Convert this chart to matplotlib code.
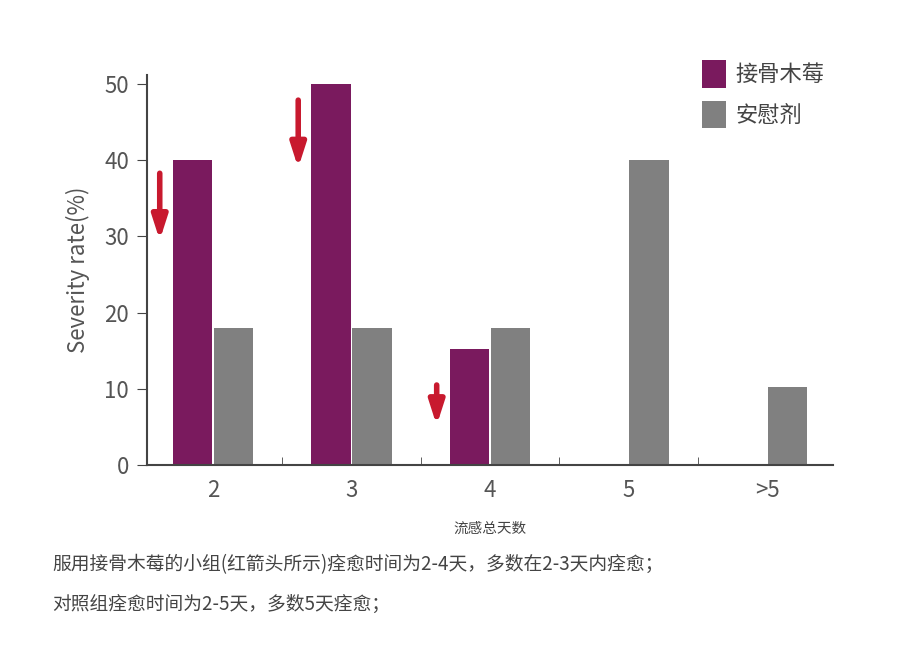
import matplotlib.pyplot as plt
import numpy as np

plt.rcParams['font.family'] = ['Noto Sans CJK SC', 'DejaVu Sans']

categories = ['2', '3', '4', '5', '>5']
elder = [40, 50, 15.2, 0, 0]
placebo = [18, 18, 18, 40, 10.2]
# arrow (start, end) values beside purple bars
arrow_groups = [0, 1, 2]
arrow_top = [38.3, 47.9, 10.5]
arrow_bot = [29.5, 39.0, 5.2]

purple = '#7a1a5e'
gray = '#808080'
red = '#c8192e'

fig = plt.figure(figsize=(9.09, 6.66), dpi=100)
ax = fig.add_axes([147/909, 1-465/666, (833-147)/909, (465-75)/666])

x = np.arange(len(categories))
w = 0.285
ax.bar(x - w/2 - 0.005, elder, w, color=purple, label='接骨木莓')
ax.bar(x + w/2 + 0.005, placebo, w, color=gray, label='安慰剂')

for g, t, b in zip(arrow_groups, arrow_top, arrow_bot):
    ax.annotate('', xy=(g - 0.385, b), xytext=(g - 0.385, t),
                arrowprops=dict(arrowstyle='-|>,head_width=0.45,head_length=1.4',
                                color=red, lw=4, shrinkA=0, shrinkB=0))

ax.set_xlim(-0.477, len(categories) - 1 + 0.477)
ax.set_ylim(0, 51.2)
ax.set_xticks(x)
ax.set_xticklabels(categories)
ax.set_xticks(x[:-1] + 0.5, minor=True)
ax.tick_params(axis='x', which='major', length=0, pad=10)
ax.tick_params(axis='x', which='minor', length=6, direction='in', color='#444')
ax.set_yticks([0, 10, 20, 30, 40, 50])
ax.tick_params(axis='y', length=7, direction='out', color='#444', pad=6)
ax.tick_params(labelsize=16, labelcolor='#555')
for lab in ax.get_xticklabels() + ax.get_yticklabels():
    lab.set_fontweight('light')
for s in ['top', 'right']:
    ax.spines[s].set_visible(False)
for s in ['left', 'bottom']:
    ax.spines[s].set_color('#444')
    ax.spines[s].set_linewidth(1.5)

ax.set_ylabel('Severity rate(%)', fontsize=16, color='#555', labelpad=10, fontweight='light')
ax.set_xlabel('流感总天数', fontsize=10.5, color='#444', labelpad=14)

leg = ax.legend(loc='upper right', bbox_to_anchor=(1.0, 1.06), frameon=False,
                fontsize=16, handlelength=1.1, handleheight=1.5, labelcolor='#444',
                handletextpad=0.4, borderaxespad=0, labelspacing=0.6)

fig.text(52/909, 1-565/666, '服用接骨木莓的小组(红箭头所示)痊愈时间为2-4天，多数在2-3天内痊愈；',
         fontsize=13.5, color='#444', va='center')
fig.text(52/909, 1-604/666, '对照组痊愈时间为2-5天，多数5天痊愈；',
         fontsize=13.5, color='#444', va='center')

fig.savefig('out.png', dpi=100)
